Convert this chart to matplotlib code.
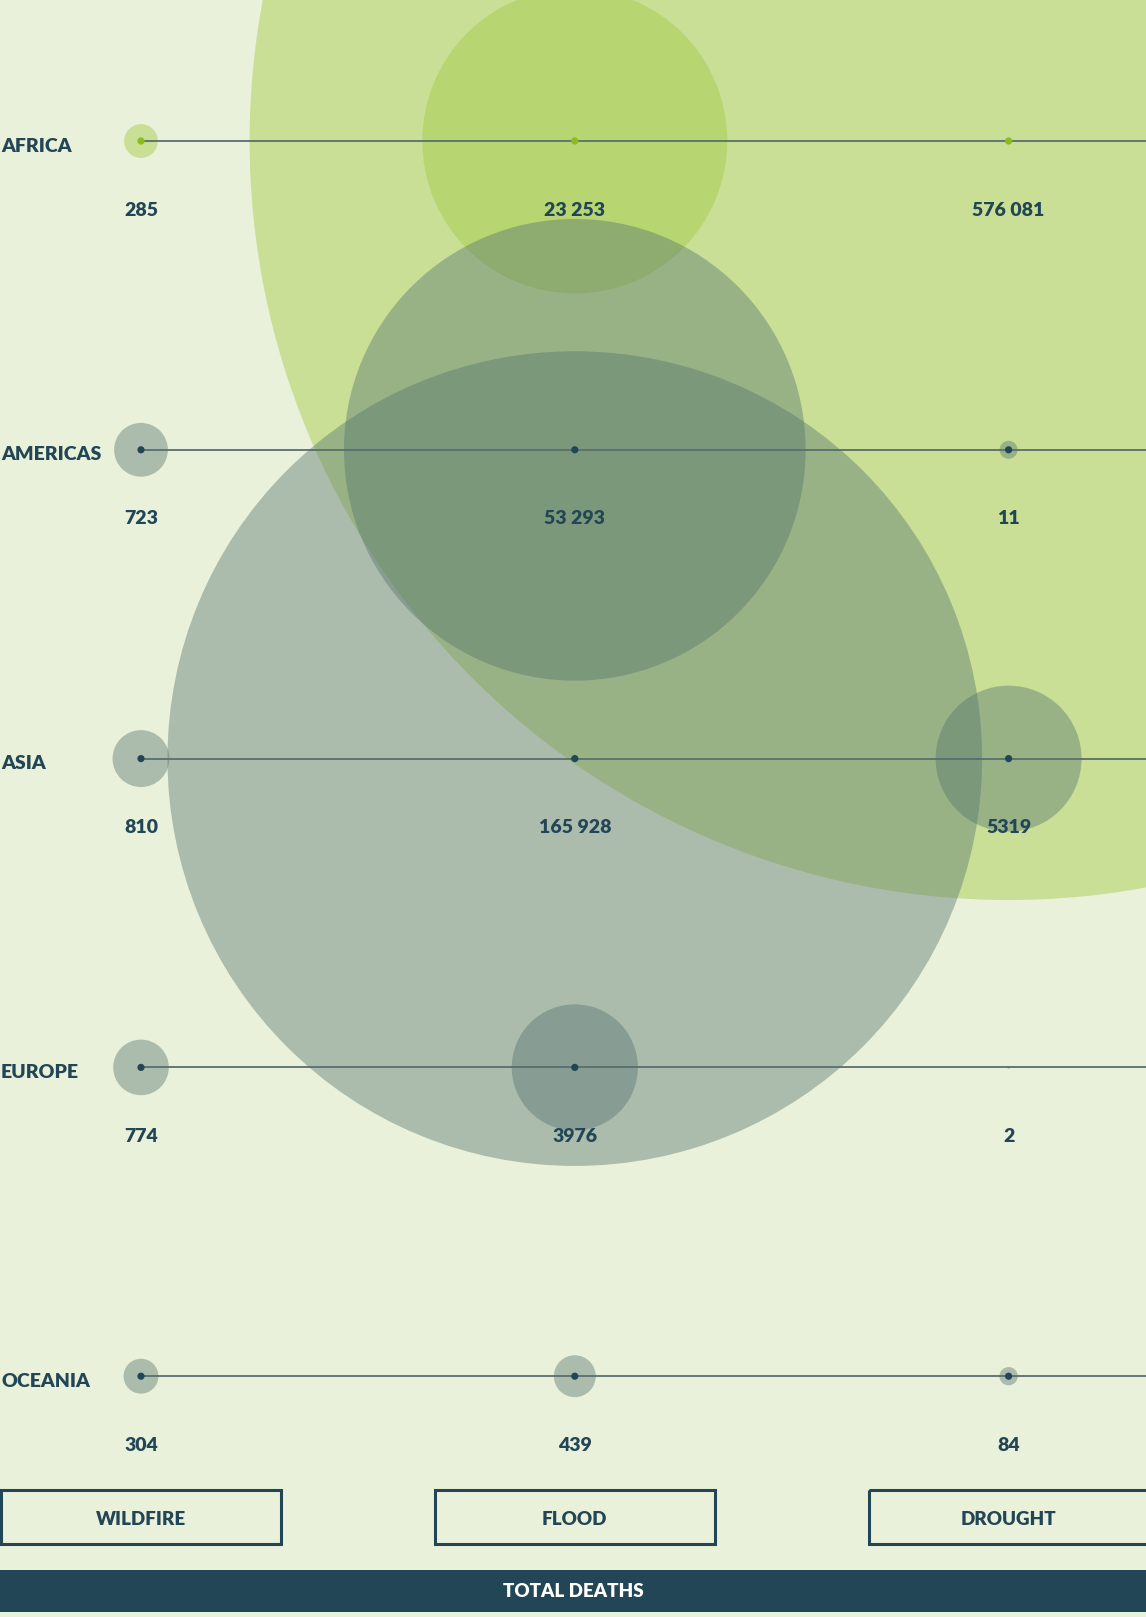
import numpy as np
import matplotlib.pyplot as plt
from matplotlib.patches import Circle, Rectangle

# Datos: muertes totales por región y tipo de desastre
regions = ["AFRICA", "AMERICAS", "ASIA", "EUROPE", "OCEANIA"]
disasters = ["WILDFIRE", "FLOOD", "DROUGHT"]
wildfire = [285, 723, 810, 774, 304]
flood = [23253, 53293, 165928, 3976, 439]
drought = [576081, 11, 5319, 2, 84]

W, H = 1146, 1617
bg = "#eaf1da"
dark = "#234657"
green = "#a2ca44"
green_dot = "#8dba1e"
grey = "#56746f"

plt.rcParams['font.family'] = ['Lato', 'DejaVu Sans']
tw = 'heavy'

fig = plt.figure(figsize=(W / 100, H / 100), dpi=100, facecolor=bg)
ax = fig.add_axes([0, 0, 1, 1])
ax.set_xlim(0, W)
ax.set_ylim(H, 0)
ax.set_facecolor(bg)
ax.axis('off')

col_x = [141 + 433.8 * j for j in range(3)]
row_y = [141 + 308.8 * i for i in range(5)]

def fmt(v):
    if v < 10000:
        return str(v)
    return f"{v:,}".replace(",", " ")

values = np.array([wildfire, flood, drought]).T  # filas = regiones

# círculos (área proporcional al valor)
for i, reg in enumerate(regions):
    fc = green if reg == "AFRICA" else grey
    a = 0.45 if reg == "AFRICA" else 0.42
    for j in range(3):
        v = values[i, j]
        r = np.sqrt(v)
        if v >= 10:
            r = max(r, 9)
        ax.add_patch(Circle((col_x[j], row_y[i]), r, fc=fc, alpha=a, lw=0, zorder=2))

# líneas, puntos y textos
for i, reg in enumerate(regions):
    y = row_y[i]
    ax.plot([col_x[0], W], [y, y], color="#5a6e6e", lw=1.3, zorder=3)
    dc = green_dot if reg == "AFRICA" else dark
    for j in range(3):
        v = values[i, j]
        if v >= 10:
            ax.add_patch(Circle((col_x[j], y), 3.6, fc=dc, lw=0, zorder=4))
        ax.text(col_x[j], y + 69, fmt(v), ha='center', va='center',
                fontsize=14, fontweight=tw, color=dark, zorder=5)
    ax.text(1, y + 5, reg, ha='left', va='center', fontsize=14,
            fontweight=tw, color=dark, zorder=5)

# botones de categoría
for j, d in enumerate(disasters):
    ax.add_patch(Rectangle((col_x[j] - 140, 1490), 280, 54, fill=False,
                           ec=dark, lw=2.2, zorder=5))
    ax.text(col_x[j], 1519, d, ha='center', va='center', fontsize=13.5,
            fontweight=tw, color=dark, zorder=6)

ax.add_patch(Rectangle((0, 1570), W, 42, fc=dark, lw=0, zorder=5))
ax.text(W / 2, 1591, "TOTAL DEATHS", ha='center', va='center', fontsize=13.5,
        fontweight=tw, color='white', zorder=6)

fig.savefig("out.png", dpi=100, facecolor=bg)
